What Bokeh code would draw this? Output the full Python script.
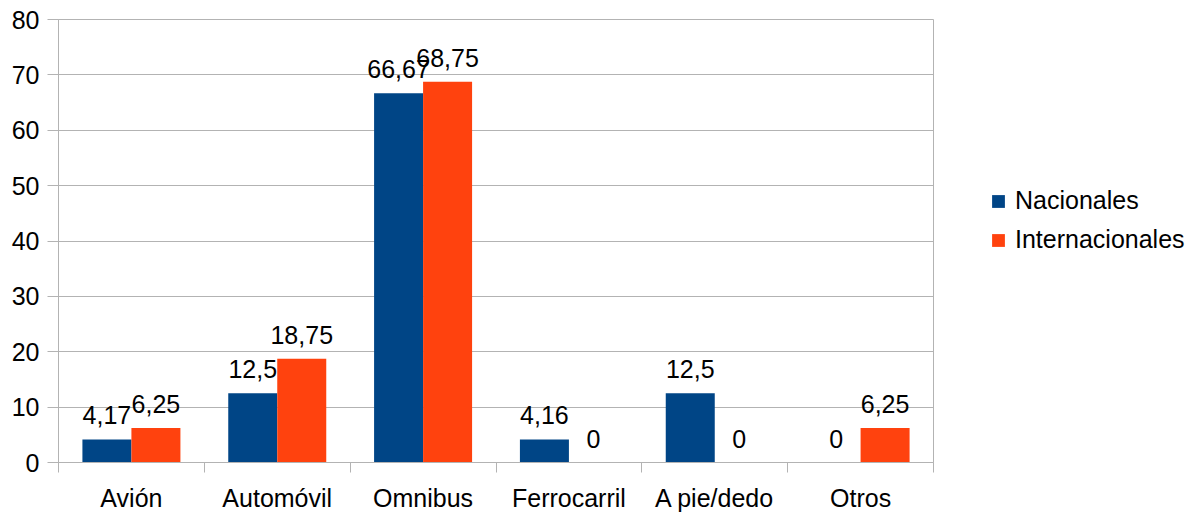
from bokeh.plotting import figure
from bokeh.models import ColumnDataSource, FixedTicker, Range1d, Legend, LegendItem
from bokeh.transform import dodge
from bokeh.core.properties import value
from bokeh.embed import file_html
from bokeh.resources import INLINE

categories = ["Avión", "Automóvil", "Omnibus", "Ferrocarril", "A pie/dedo", "Otros"]
nacionales = [4.17, 12.5, 66.67, 4.16, 12.5, 0]
internacionales = [6.25, 18.75, 68.75, 0, 0, 6.25]
series_names = ["Nacionales", "Internacionales"]
colors = ["#004586", "#ff420e"]
y_ticks = [0, 10, 20, 30, 40, 50, 60, 70, 80]

def fmt(v):
    return f"{v:g}".replace(".", ",")

xc = [i + 0.5 for i in range(len(categories))]
src = ColumnDataSource(dict(
    xc=xc,
    nac=nacionales,
    intl=internacionales,
    nac_lbl=[fmt(v) for v in nacionales],
    intl_lbl=[fmt(v) for v in internacionales],
))

FONT = "Liberation Sans"
FS = "25px"
GRID = "#b3b3b3"

p = figure(width=1196, height=510, output_backend="svg", toolbar_location=None,
           x_range=Range1d(0, len(categories)), y_range=Range1d(0, 80),
           frame_width=875, frame_height=443,
           min_border_left=58, min_border_top=19, min_border_bottom=48, min_border_right=263)

bw = 0.336
r1 = p.vbar(x=dodge("xc", -bw / 2, range=p.x_range), top="nac", width=bw, source=src,
            fill_color=colors[0], line_color=None)
r2 = p.vbar(x=dodge("xc", bw / 2, range=p.x_range), top="intl", width=bw, source=src,
            fill_color=colors[1], line_color=None)

for col, lbl, off in [("nac", "nac_lbl", -bw / 2), ("intl", "intl_lbl", bw / 2)]:
    p.text(x=dodge("xc", off, range=p.x_range), y=col, text=lbl, source=src,
           text_align="center", text_baseline="alphabetic", y_offset=-24,
           text_font=value(FONT), text_font_size=FS, text_color="black")

# axes
p.xaxis.ticker = FixedTicker(ticks=xc, minor_ticks=list(range(len(categories) + 1)))
p.xaxis.major_label_overrides = {x: c for x, c in zip(xc, categories)}
p.xaxis.major_tick_line_color = None
p.xaxis.major_tick_out = 0
p.xaxis.major_tick_in = 0
p.xaxis.minor_tick_out = 10
p.xaxis.minor_tick_in = 0
p.xaxis.minor_tick_line_color = GRID
p.xaxis.axis_line_color = GRID
p.xaxis.major_label_standoff = 11
p.xaxis.major_label_text_font = FONT
p.xaxis.major_label_text_font_size = FS
p.xaxis.major_label_text_color = "black"

p.yaxis.ticker = FixedTicker(ticks=y_ticks)
p.yaxis.major_tick_out = 11
p.yaxis.major_tick_in = 0
p.yaxis.minor_tick_line_color = None
p.yaxis.major_tick_line_color = GRID
p.yaxis.axis_line_color = GRID
p.yaxis.major_label_standoff = 8
p.yaxis.major_label_text_font = FONT
p.yaxis.major_label_text_font_size = FS
p.yaxis.major_label_text_color = "black"

p.xgrid.grid_line_color = None
p.ygrid.grid_line_color = GRID
p.ygrid.ticker = FixedTicker(ticks=y_ticks)
p.outline_line_color = GRID

legend = Legend(items=[LegendItem(label=series_names[0], renderers=[r1]),
                       LegendItem(label=series_names[1], renderers=[r2])],
                location=(57, 208), orientation="vertical",
                glyph_width=16, glyph_height=16, label_height=22, spacing=10,
                label_standoff=9, padding=0, margin=0,
                label_text_font=FONT, label_text_font_size=FS, label_text_color="black",
                border_line_color=None, background_fill_alpha=0)
p.add_layout(legend, "right")

open("out.html", "w").write(file_html(p, INLINE))
